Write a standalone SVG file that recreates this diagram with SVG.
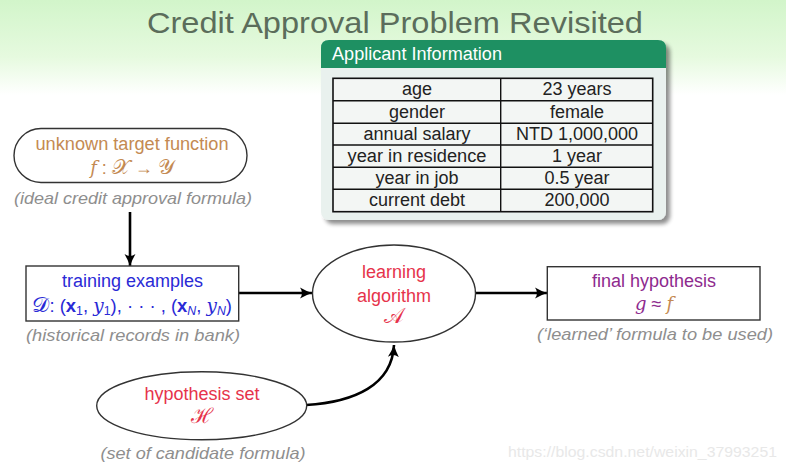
<svg xmlns="http://www.w3.org/2000/svg" width="786" height="475" viewBox="0 0 786 475">
<defs>
<linearGradient id="bg" x1="0" y1="0" x2="0" y2="1" gradientUnits="objectBoundingBox">
<stop offset="0" stop-color="#d2f5ca"/>
<stop offset="0.12" stop-color="#e6fadf"/>
<stop offset="0.2" stop-color="#ffffff"/>
<stop offset="1" stop-color="#ffffff"/>
</linearGradient>
<filter id="shadow" x="-10%" y="-10%" width="130%" height="130%">
<feGaussianBlur in="SourceAlpha" stdDeviation="2"/>
<feOffset dx="4" dy="4" result="b"/>
<feComponentTransfer><feFuncA type="linear" slope="0.45"/></feComponentTransfer>
<feMerge><feMergeNode/><feMergeNode in="SourceGraphic"/></feMerge>
</filter>
<marker id="arr" markerUnits="userSpaceOnUse" markerWidth="14" markerHeight="12" refX="12" refY="6" orient="auto">
<path d="M0,0.5 Q6,4 12,6 Q6,8 0,11.5 Q4,6 0,0.5 Z" fill="#000"/>
</marker>
</defs>
<style>
text{font-family:"Liberation Sans",Arial,Helvetica,sans-serif;}
.c{text-anchor:middle;}
.t{font-size:18px;fill:#222;text-anchor:middle;}
.lbl{font-size:18px;text-anchor:middle;}
.note{font-size:16.5px;font-style:italic;fill:#8e8e8e;text-anchor:middle;}
.math{font-family:"DejaVu Serif","Liberation Serif",serif;}
.scr{font-family:"DejaVu Serif","Liberation Serif",serif;font-size:21px;}
.conn{fill:none;stroke:#000;stroke-width:2.6;marker-end:url(#arr);}
.node{fill:#fff;stroke:#333;stroke-width:1.4;}
</style>
<rect x="0" y="0" width="786" height="475" fill="url(#bg)"/>

<text x="395" y="33" class="c" font-size="29" fill="#5b6d5b" textLength="496" lengthAdjust="spacingAndGlyphs">Credit Approval Problem Revisited</text>

<g id="applicant-info">
<rect x="321" y="40" width="345" height="180" rx="8" fill="#e9f1ee" filter="url(#shadow)"/>
<path d="M321,68 V48 Q321,40 329,40 H658 Q666,40 666,48 V68 Z" fill="#1e9062"/>
<text x="332" y="60" font-size="18" fill="#ffffff" textLength="170" lengthAdjust="spacingAndGlyphs">Applicant Information</text>
<rect x="333" y="78.3" width="319.7" height="133.4" fill="#f3f6f4" stroke="#111" stroke-width="1.6"/>
<g stroke="#111" stroke-width="1.4">
<line x1="500.7" y1="78.3" x2="500.7" y2="211.7"/>
<line x1="333" y1="100.7" x2="652.7" y2="100.7"/>
<line x1="333" y1="123.3" x2="652.7" y2="123.3"/>
<line x1="333" y1="145" x2="652.7" y2="145"/>
<line x1="333" y1="167.3" x2="652.7" y2="167.3"/>
<line x1="333" y1="189.3" x2="652.7" y2="189.3"/>
</g>
<text x="417" y="95" class="t">age</text>
<text x="577" y="95" class="t">23 years</text>
<text x="417" y="117.5" class="t">gender</text>
<text x="577" y="117.5" class="t">female</text>
<text x="417" y="140" class="t">annual salary</text>
<text x="577" y="140" class="t">NTD 1,000,000</text>
<text x="417" y="161.5" class="t" textLength="139" lengthAdjust="spacingAndGlyphs">year in residence</text>
<text x="577" y="161.5" class="t">1 year</text>
<text x="417" y="184" class="t">year in job</text>
<text x="577" y="184" class="t">0.5 year</text>
<text x="417" y="206" class="t">current debt</text>
<text x="577" y="206" class="t">200,000</text>
</g>

<g id="connectors">
<line x1="130" y1="212" x2="130" y2="266" class="conn"/>
<line x1="239" y1="293" x2="312" y2="293" class="conn"/>
<line x1="476" y1="293" x2="547" y2="293" class="conn"/>
<path d="M306,405 C355,402 392,385 394,345" class="conn"/>
</g>

<g id="target-function">
<rect x="14" y="128.5" width="233" height="54" rx="27" class="node"/>
<text x="132" y="150" class="lbl" fill="#c48a52" textLength="193" lengthAdjust="spacingAndGlyphs">unknown target function</text>
<text x="132" y="173.5" class="lbl" fill="#c48a52"><tspan class="math" font-style="italic">f</tspan> : <tspan class="scr">𝒳</tspan> → <tspan class="scr">𝒴</tspan></text>
<text x="133" y="203.5" class="note" textLength="238" lengthAdjust="spacingAndGlyphs">(ideal credit approval formula)</text>
</g>

<g id="training-examples">
<rect x="26" y="266" width="212.7" height="55" class="node" stroke="#111" stroke-width="1.8"/>
<text x="132.5" y="287" class="lbl" fill="#2a2ad6">training examples</text>
<text x="132" y="311.5" class="lbl" fill="#2a2ad6" textLength="200" lengthAdjust="spacingAndGlyphs"><tspan class="scr">𝒟</tspan>: (<tspan font-weight="bold">x</tspan><tspan font-size="12" dy="3">1</tspan><tspan dy="-3">, </tspan><tspan class="math" font-style="italic">y</tspan><tspan font-size="12" dy="3">1</tspan><tspan dy="-3">), · · · , (</tspan><tspan font-weight="bold">x</tspan><tspan font-size="12" font-style="italic" dy="3">N</tspan><tspan dy="-3">, </tspan><tspan class="math" font-style="italic">y</tspan><tspan font-size="12" font-style="italic" dy="3">N</tspan><tspan dy="-3">)</tspan></text>
<text x="133" y="341" class="note" textLength="214" lengthAdjust="spacingAndGlyphs">(historical records in bank)</text>
</g>

<g id="learning-algorithm">
<ellipse cx="394" cy="293.5" rx="81.5" ry="48.5" class="node"/>
<text x="394" y="278" class="lbl" fill="#e6334b">learning</text>
<text x="394" y="302" class="lbl" fill="#e6334b">algorithm</text>
<text x="394" y="323" class="lbl scr" fill="#e6334b">𝒜</text>
</g>

<g id="final-hypothesis">
<rect x="547.3" y="266.7" width="212.7" height="53.3" class="node" stroke="#111" stroke-width="1.8"/>
<text x="654" y="287" class="lbl" fill="#8e2a8e">final hypothesis</text>
<text x="654" y="310" class="lbl"><tspan class="math" font-style="italic" fill="#8e2a8e">g</tspan><tspan fill="#8e2a8e"> ≈ </tspan><tspan class="math" font-style="italic" fill="#c48a52">f</tspan></text>
<text x="655" y="340" class="note" textLength="236" lengthAdjust="spacingAndGlyphs">(‘learned’ formula to be used)</text>
</g>

<g id="hypothesis-set">
<ellipse cx="201.7" cy="405.8" rx="105" ry="34" class="node"/>
<text x="202" y="400" class="lbl" fill="#e6334b">hypothesis set</text>
<text x="202" y="422.5" class="lbl scr" fill="#e6334b">ℋ</text>
<text x="203" y="458.5" class="note" textLength="205" lengthAdjust="spacingAndGlyphs">(set of candidate formula)</text>
</g>

<text x="508" y="457" font-size="15" fill="#e8e8e8" textLength="269" lengthAdjust="spacingAndGlyphs">https://blog.csdn.net/weixin_37993251</text>
</svg>
